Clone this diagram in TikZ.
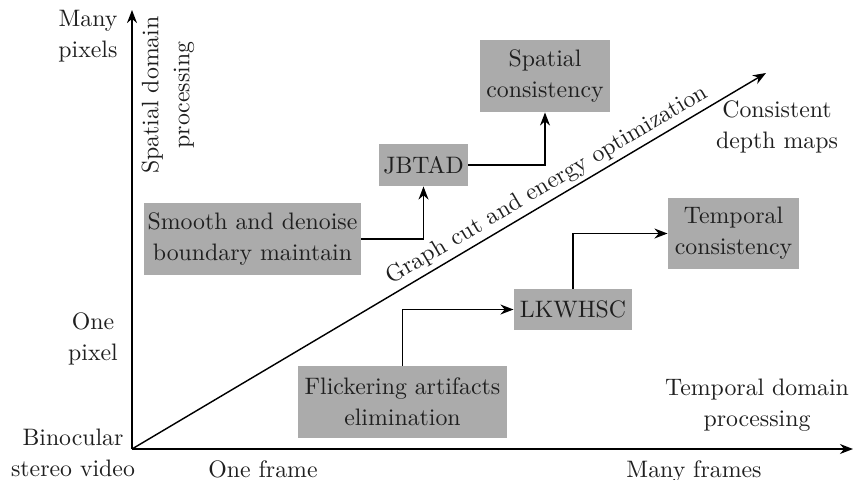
\documentclass[tikz,border=0pt]{standalone}
\usetikzlibrary{arrows.meta}
\definecolor{boxgray}{RGB}{171,171,171}
\begin{document}
\begin{tikzpicture}[x=0.42pt,y=-0.42pt,
  every node/.style={font=\fontsize{10}{13}\selectfont, align=center, text=black!88},
  gbox/.style={fill=boxgray, inner sep=0pt},
  ln/.style={line width=0.6pt},
  arr/.style={ln, -{Stealth[length=5.5pt,width=4.2pt]}}]
\useasboundingbox (0,0) rectangle (855,479);
% axes
\coordinate (O) at (132,449);
\coordinate (ytip) at (132,10);
\coordinate (xtip) at (853,449);
\coordinate (dtip) at (766,73);
\draw[arr] (O) -- (ytip);
\draw[arr] (O) -- (xtip);
\draw[arr] (O) -- node[pos=0.667, sloped, above=0pt, inner sep=1.5pt] (glab) {Graph cut and energy optimization} (dtip);
% axis labels
\node (manypix) at (88,36) {Many\\pixels};
\node (onepix) at (93,339) {One\\pixel};
\node (bino) at (73,453) {Binocular\\stereo video};
\node[anchor=base] (oneframe) at (263,477) {One frame};
\node[anchor=base] (manyframes) at (694,477) {Many frames};
\node (tdp) at (757,405) {Temporal domain\\processing};
\node[rotate=90] (sdp) at (168,95) {Spatial domain\\processing};
\node (cdm) at (777,127) {Consistent\\depth maps};
% boxes
\node[gbox, minimum width=130*0.42pt, minimum height=72*0.42pt] (sc) at (545,76) {Spatial\\consistency};
\node[gbox, minimum width=131*0.42pt, minimum height=71*0.42pt] (tc) at (733.5,233.5) {Temporal\\consistency};
\node[gbox, minimum width=217*0.42pt, minimum height=72*0.42pt] (sm) at (252.5,239) {Smooth and denoise\\boundary maintain};
\node[gbox, minimum width=209*0.42pt, minimum height=72*0.42pt] (fl) at (402.5,402) {Flickering artifacts\\elimination};
\node[gbox, minimum width=89*0.42pt, minimum height=42*0.42pt] (jb) at (423.5,165) {JBTAD};
\node[gbox, minimum width=118*0.42pt, minimum height=41*0.42pt] (lk) at (573,309.5) {LKWHSC};
% connectors
\draw[arr] (jb.east) -| (sc.south);
\draw[arr] (sm.east) -| (jb.south);
\draw[arr] (fl.north) |- (lk.west);
\draw[arr] (lk.north) |- (tc.west);
\end{tikzpicture}
\end{document}
